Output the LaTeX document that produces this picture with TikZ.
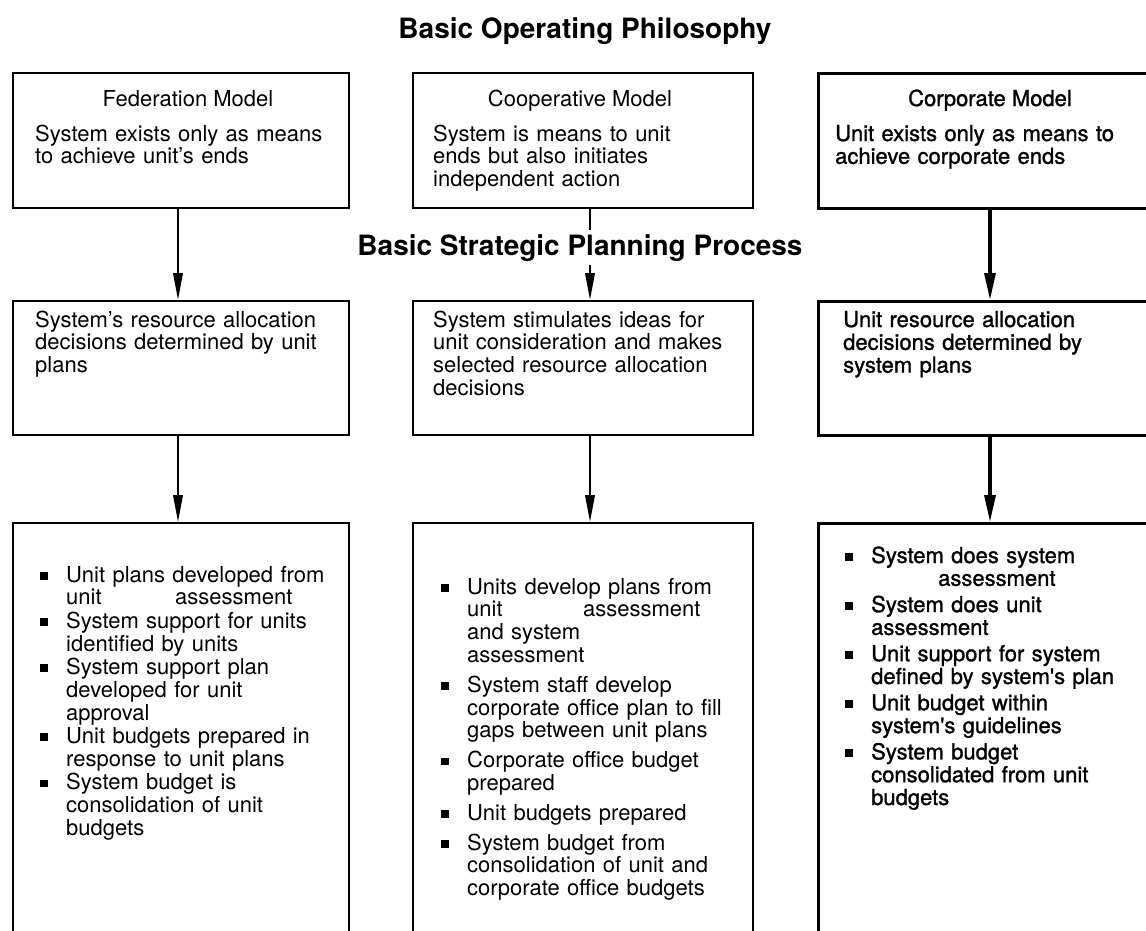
\documentclass[tikz,border=0pt]{standalone}
\usepackage{fontspec}
\setmainfont{TeX Gyre Heros}
\newfontfamily\heavysans[FakeBold=1.2]{TeX Gyre Heros}
\usetikzlibrary{arrows.meta}

% body text size and the square bullet list
\newcommand\bodysize{\fontsize{22}{22.8}\selectfont}
\newcommand\sqbullet{\rule[2.5pt]{8pt}{7.5pt}}
% first item opens the paragraph already started by the node
\newcommand\sqfirst{\noindent\hangindent=26pt\hangafter=1\makebox[26pt][l]{\sqbullet}\ignorespaces}
\newcommand\sqitem{\par\sqfirst}

\begin{document}
\begin{tikzpicture}[x=1pt,y=-1pt,
  panel/.style={draw, line width=2pt, anchor=north west, inner sep=0pt,
                minimum width=#1},
  heavypanel/.style={panel=#1, line width=2.6pt},
  title/.style={anchor=base, inner sep=0pt, font=\bfseries\fontsize{28}{30}\selectfont},
  head/.style={anchor=base, inner sep=0pt, font=\bodysize},
  body/.style={anchor=base west, inner sep=0pt, text width=320pt, font=\bodysize},
  heavybody/.style={body, font=\bodysize\heavysans},
  arr/.style={line width=2pt, -{Triangle[length=27pt,width=9.5pt]}},
  heavyarr/.style={line width=3.2pt, -{Triangle[length=27pt,width=11pt]}}]

\useasboundingbox (0,0) rectangle (1146,930);
\clip (0,0) rectangle (1146,930);

% column axes of the connectors
\coordinate (colA) at (178,0);
\coordinate (colB) at (590,0);
\coordinate (colC) at (990,0);

% operating philosophy row
\node[panel=336pt, minimum height=135pt] (top1) at (12,72) {};
\node[panel=340pt, minimum height=135pt] (top2) at (412,72) {};
\node[heavypanel=340pt, minimum height=135pt] (top3) at (817,72) {};

% resource allocation row
\node[panel=336pt, minimum height=134pt] (mid1) at (12,300) {};
\node[panel=340pt, minimum height=134pt] (mid2) at (412,300) {};
\node[heavypanel=340pt, minimum height=134pt] (mid3) at (817,300) {};

% planning steps row (runs past the lower edge)
\node[panel=336pt, minimum height=440pt] (bot1) at (12,522) {};
\node[panel=340pt, minimum height=440pt] (bot2) at (412,522) {};
\node[heavypanel=340pt, minimum height=440pt] (bot3) at (817,522) {};

% connectors
\draw[arr] (top1.south -| colA) -- (mid1.north -| colA);
\draw[arr] (top2.south -| colB) -- (mid2.north -| colB);
\draw[heavyarr] (top3.south -| colC) -- (mid3.north -| colC);
\draw[arr] (mid1.south -| colA) -- (bot1.north -| colA);
\draw[arr] (mid2.south -| colB) -- (bot2.north -| colB);
\draw[heavyarr] (mid3.south -| colC) -- (bot3.north -| colC);

% section titles
\node[title] (philo) at (585,38) {Basic Operating Philosophy};
\node[title, fill=white, inner sep=4pt] (process) at (580,255) {Basic Strategic Planning Process};

% model headings
\node[head] (h1) at (188,106) {Federation Model};
\node[head] (h2) at (580,106) {Cooperative Model};
\node[head, font=\bodysize\heavysans] (h3) at (990,106) {Corporate Model};

% model descriptions
\node[body] (t1) at (35,141) {System exists only as means\newline to achieve unit's ends};
\node[body] (t2) at (433,141) {System is means to unit\newline ends but also initiates\newline independent action};
\node[heavybody] (t3) at (835,141) {Unit exists only as means to\newline achieve corporate ends};

% allocation decisions
\node[body] (m1) at (35,327) {System's resource allocation\newline decisions determined by unit\newline plans};
\node[body] (m2) at (433,327) {System stimulates ideas for\newline unit consideration and makes\newline selected resource allocation\newline decisions};
\node[heavybody] (m3) at (843,327) {Unit resource allocation\newline decisions determined by\newline system plans};

% planning steps
\node[body, text width=300pt] (l1) at (40,582) {\setlength\parskip{0.6pt}%
\sqfirst Unit plans developed from\newline \makebox[109pt][l]{unit}assessment
\sqitem System support for units\newline identified by units
\sqitem System support plan\newline developed for unit\newline approval
\sqitem Unit budgets prepared in\newline response to unit plans
\sqitem System budget is\newline consolidation of unit\newline budgets\par};

\node[body, text width=300pt] (l2) at (441,594) {\setlength\parskip{7pt}%
\sqfirst Units develop plans from\newline \makebox[116pt][l]{unit}assessment\newline and system\newline assessment
\sqitem System staff develop\newline corporate office plan to fill\newline gaps between unit plans
\sqitem Corporate office budget\newline prepared
\sqitem Unit budgets prepared
\sqitem System budget from\newline consolidation of unit and\newline corporate office budgets\par};

\node[heavybody, text width=300pt] (l3) at (845,563) {\setlength\parskip{3.5pt}%
\sqfirst System does system\newline \hspace*{67pt}assessment
\sqitem System does unit\newline assessment
\sqitem Unit support for system\newline defined by system's plan
\sqitem Unit budget within\newline system's guidelines
\sqitem System budget\newline consolidated from unit\newline budgets\par};

\end{tikzpicture}
\end{document}
